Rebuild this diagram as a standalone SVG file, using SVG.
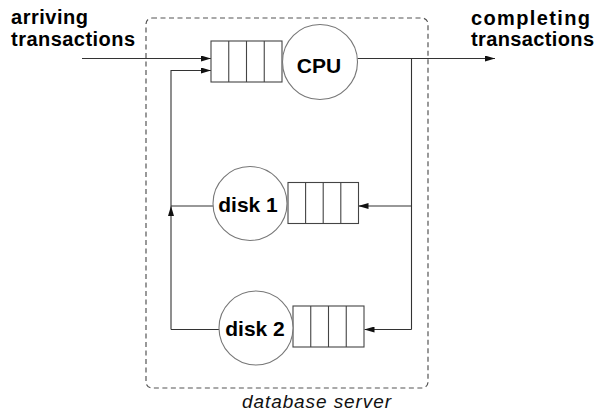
<svg xmlns="http://www.w3.org/2000/svg" width="597" height="416" viewBox="0 0 597 416">
<defs>
<style>
.bg{fill:#fff}
.box{fill:none;stroke:#555;stroke-width:1.2;stroke-dasharray:5 3.5}
.q{fill:#fff;stroke:#444;stroke-width:1.1}
.c{fill:#fff;stroke:#777;stroke-width:1.1}
.ln{fill:none;stroke:#333;stroke-width:1.1}
.lbl{font-family:"Liberation Sans",Arial,sans-serif;font-weight:bold;font-size:20px;fill:#000}
.nd{font-family:"Liberation Sans",Arial,sans-serif;font-weight:bold;font-size:21px;fill:#000;text-anchor:middle}
.cap{font-family:"Liberation Sans",Arial,sans-serif;font-style:italic;font-size:19px;fill:#111}
</style>
<marker id="ah" viewBox="0 0 10 6" refX="10" refY="3" markerWidth="10" markerHeight="6" markerUnits="userSpaceOnUse" orient="auto">
<path d="M0,0 L10,3 L0,6 z" fill="#111"/>
</marker>
</defs>
<rect class="bg" x="0" y="0" width="597" height="416"/>
<g id="server">
<rect class="box" x="146" y="18" width="282" height="370" rx="6"/>
<text class="cap" x="242" y="408" textLength="149" lengthAdjust="spacing">database server</text>
</g>
<g id="labels">
<text class="lbl" x="11" y="24" textLength="77" lengthAdjust="spacing">arriving</text>
<text class="lbl" x="11" y="46" textLength="124" lengthAdjust="spacing">transactions</text>
<text class="lbl" x="471" y="25" textLength="119" lengthAdjust="spacing">completing</text>
<text class="lbl" x="471" y="46" textLength="123" lengthAdjust="spacing">transactions</text>
</g>
<g id="connectors">
<path class="ln" d="M82,58.5 H211" marker-end="url(#ah)"/>
<path class="ln" d="M171,206 V70.5 H211" marker-end="url(#ah)"/>
<path class="ln" d="M171,329.5 V206" marker-end="url(#ah)"/>
<path class="ln" d="M357.5,58.5 H495" marker-end="url(#ah)"/>
<path class="ln" d="M411.5,58.5 V329.5"/>
<path class="ln" d="M411.5,206 H358.5" marker-end="url(#ah)"/>
<path class="ln" d="M411.5,329.5 H364.5" marker-end="url(#ah)"/>
<path class="ln" d="M213,206 H171"/>
<path class="ln" d="M219,329.5 H171"/>
</g>
<g id="cpu-queue">
<rect class="q" x="211" y="41" width="71" height="41"/>
<path class="q" d="M228.75,41 V82 M246.5,41 V82 M264.25,41 V82"/>
</g>
<g id="cpu">
<circle class="c" cx="320" cy="62" r="37.5"/>
<text class="nd" x="319" y="73">CPU</text>
</g>
<g id="disk1-queue">
<rect class="q" x="288" y="182.5" width="70.5" height="41"/>
<path class="q" d="M305.6,182.5 V223.5 M323.2,182.5 V223.5 M340.8,182.5 V223.5"/>
</g>
<g id="disk1">
<circle class="c" cx="250" cy="203.5" r="37"/>
<text class="nd" x="248" y="212">disk 1</text>
</g>
<g id="disk2-queue">
<rect class="q" x="293" y="306" width="71" height="41"/>
<path class="q" d="M310.75,306 V347 M328.5,306 V347 M346.25,306 V347"/>
</g>
<g id="disk2">
<circle class="c" cx="256" cy="328" r="37"/>
<text class="nd" x="255" y="336">disk 2</text>
</g>
</svg>
